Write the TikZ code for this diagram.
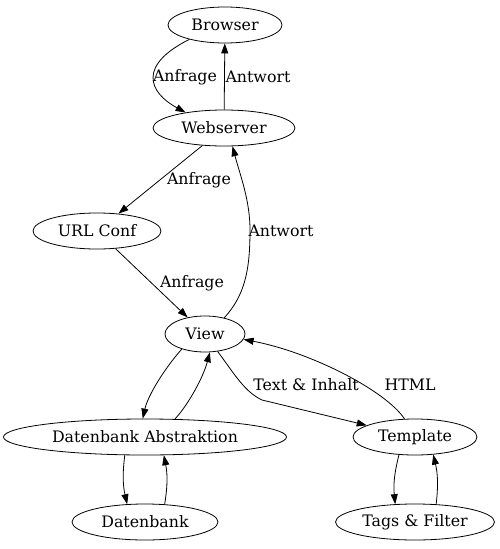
\documentclass[tikz,border=0pt]{standalone}
\usepackage{fontspec}
\setmainfont{DejaVu Serif}
\usetikzlibrary{arrows.meta,shapes.geometric}

\begin{document}
\begin{tikzpicture}[x=1pt,y=-1pt,
  ell/.style={draw, ellipse, inner sep=0pt, minimum height=36pt, line width=0.8pt, font=\fontsize{15.8}{18}\selectfont},
  flow/.style={line width=0.8pt, -{Triangle[length=10pt,width=7pt]}},
  lbl/.style={inner sep=0pt, font=\fontsize{15.8}{18}\selectfont}]
\useasboundingbox (0,0) rectangle (500,549);

% nodes
\node[ell, minimum width=114pt] (browser) at (225,25) {Browser};
\node[ell, minimum width=142pt] (webserver) at (224,128) {Webserver};
\node[ell, minimum width=128pt] (urlconf) at (97,231) {URL Conf};
\node[ell, minimum width=80pt] (view) at (205,334) {View};
\node[ell, minimum width=283pt] (dbabs) at (145,437) {Datenbank Abstraktion};
\node[ell, minimum width=124pt] (template) at (415,437) {Template};
\node[ell, minimum width=146pt] (db) at (145,522) {Datenbank};
\node[ell, minimum width=159pt] (tags) at (415,522) {Tags \& Filter};

% connectors
\draw[flow] (browser.202) .. controls (138,65) and (148,92) .. (webserver.158);
\draw[flow] (webserver) -- (browser);
\draw[flow] (webserver) -- (urlconf);
\draw[flow] (urlconf) -- (view);
\draw[flow] (view.40) .. controls (245,295) and (250,270) .. (250,230)
  .. controls (250,200) and (240,175) .. (webserver.295);
\draw[flow] (view.213) .. controls (165,368) and (148,395) .. (dbabs.97);
\draw[flow] (dbabs.31) .. controls (188,405) and (203,378) .. (view.285);
\draw[flow] (view.306) .. controls (235,375) and (245,392) .. (262,400) -- (template);
\draw[flow] (template.120) .. controls (385,390) and (310,352) .. (view.352);
\draw[flow] (dbabs.222) to[bend right=10] (db.135);
\draw[flow] (db.42) to[bend right=10] (dbabs.316);
\draw[flow] (template.228) to[bend right=10] (tags.138);
\draw[flow] (tags.40) to[bend right=10] (template.316);

% labels
\node[lbl] (l1) at (185,77) {Anfrage};
\node[lbl] (l2) at (258,77) {Antwort};
\node[lbl] (l3) at (199,180) {Anfrage};
\node[lbl] (l4) at (281,231) {Antwort};
\node[lbl] (l5) at (192,283) {Anfrage};
\node[lbl] (l6) at (306,385) {Text \& Inhalt};
\node[lbl] (l7) at (410,385) {HTML};
\end{tikzpicture}
\end{document}
